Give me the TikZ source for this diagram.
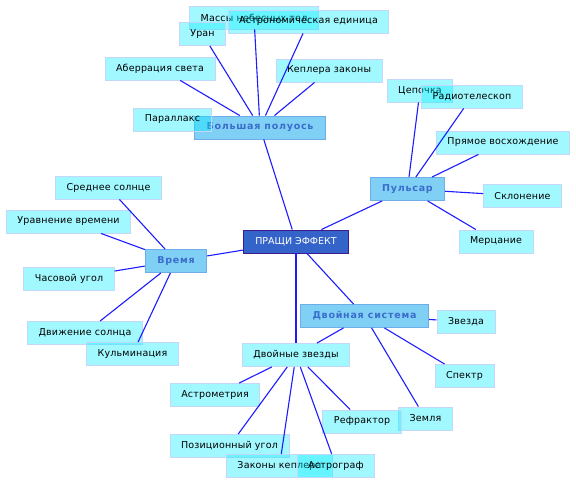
\documentclass[tikz,border=0pt]{standalone}
\usepackage{fontspec}
\setmainfont{DejaVu Sans}
\usepackage{xcolor}
\usetikzlibrary{positioning}
\definecolor{leaffill}{RGB}{0, 236, 255}
\definecolor{leafedge}{RGB}{196, 214, 250}
\definecolor{topicfill}{RGB}{128, 208, 246}
\definecolor{topicedge}{RGB}{112, 172, 232}
\definecolor{topicink}{RGB}{58, 108, 204}
\definecolor{rootfill}{RGB}{52, 100, 202}
\definecolor{rootedge}{RGB}{62, 28, 140}
\definecolor{wire}{RGB}{28, 28, 255}
\tikzset{
    leaf/.style ={draw=leafedge, line width=0.9pt, fill=leaffill, fill opacity=0.37,
                  text opacity=1, minimum height=23pt, inner xsep=11pt,
                  font=\fontsize{9.5}{11}\selectfont\addfontfeature{LetterSpace=2}},
    topic/.style={draw=topicedge, line width=0.9pt, fill=topicfill,
                  minimum height=23pt, inner xsep=12pt, text=topicink,
                  font=\fontsize{9.5}{11}\selectfont\bfseries\addfontfeature{LetterSpace=8}},
    root/.style ={draw=rootedge, line width=0.9pt, fill=rootfill, text=white,
                  minimum height=23pt, inner xsep=12pt,
                  font=\fontsize{9.5}{11}\selectfont},
    ln/.style   ={draw=wire, line width=1.1pt}
}

\begin{document}
\begin{tikzpicture}[x=1pt, y=-1pt]
  \useasboundingbox (0,0) rectangle (576,484);

  \node[root] (root) at (296,241.5) {ПРАЩИ ЭФФЕКТ};

  % topics
  \node[topic] (axis)   at (260,127.5) {Большая полуось};
  \node[topic] (pulsar) at (407.5,189) {Пульсар};
  \node[topic] (time)   at (176,261)   {Время};
  \node[topic] (binsys) at (364.5,316) {Двойная система};
  \node[leaf]  (double) at (296,355)   {Двойные звезды};

  % big semi-axis
  \node[leaf] (mass)     at (254,17.5)   {Массы небесных тел};
  \node[leaf] (au)       at (308.5,21.5) {Астрономическая единица};
  \node[leaf] (uranus)   at (202.5,34)   {Уран};
  \node[leaf] (aberr)    at (160,68.5)   {Аберрация света};
  \node[leaf] (kepler)   at (329,70.5)   {Кеплера законы};
  \node[leaf] (parallax) at (172.5,119.5) {Параллакс};

  % pulsar
  \node[leaf] (chain) at (420,90.5)  {Цепочка};
  \node[leaf] (radio) at (472,96.5)  {Радиотелескоп};
  \node[leaf] (ra)    at (503,142.5) {Прямое восхождение};
  \node[leaf] (decl)  at (522.5,196) {Склонение};
  \node[leaf] (twink) at (496,241.5) {Мерцание};

  % time
  \node[leaf] (meansun) at (108.5,187.5) {Среднее солнце};
  \node[leaf] (eqtime)  at (68.5,221.5)  {Уравнение времени};
  \node[leaf] (hour)    at (69,278.5)    {Часовой угол};
  \node[leaf] (sunmove) at (85,333)      {Движение солнца};
  \node[leaf] (culm)    at (132.5,354)   {Кульминация};

  % binary system
  \node[leaf] (star)  at (466,321.5) {Звезда};
  \node[leaf] (spec)  at (464.5,376) {Спектр};
  \node[leaf] (earth) at (425.5,418.5) {Земля};

  % double stars
  \node[leaf] (astrom) at (215,395)    {Астрометрия};
  \node[leaf] (posang) at (229.5,446)  {Позиционный угол};
  \node[leaf] (keplaw) at (279.5,466)  {Законы кеплера};
  \node[leaf] (astrog) at (336,466)    {Астрограф};
  \node[leaf] (refr)   at (362,421.5)  {Рефрактор};

  \draw[ln] (root) -- (axis);
  \draw[ln] (root) -- (pulsar);
  \draw[ln] (root) -- (time);
  \draw[ln] (root) -- (binsys);
  \draw[ln] (root) -- (double);
  \draw[ln] (binsys) -- (double);

  \foreach \leafname in {mass, au, uranus, aberr, kepler}
    \draw[ln] (axis) -- (\leafname);
  \foreach \leafname in {chain, radio, ra, decl, twink}
    \draw[ln] (pulsar) -- (\leafname);
  \foreach \leafname in {meansun, eqtime, hour, sunmove, culm}
    \draw[ln] (time) -- (\leafname);
  \foreach \leafname in {star, spec, earth}
    \draw[ln] (binsys) -- (\leafname);
  \foreach \leafname in {astrom, posang, keplaw, astrog, refr}
    \draw[ln] (double) -- (\leafname);
\end{tikzpicture}
\end{document}
